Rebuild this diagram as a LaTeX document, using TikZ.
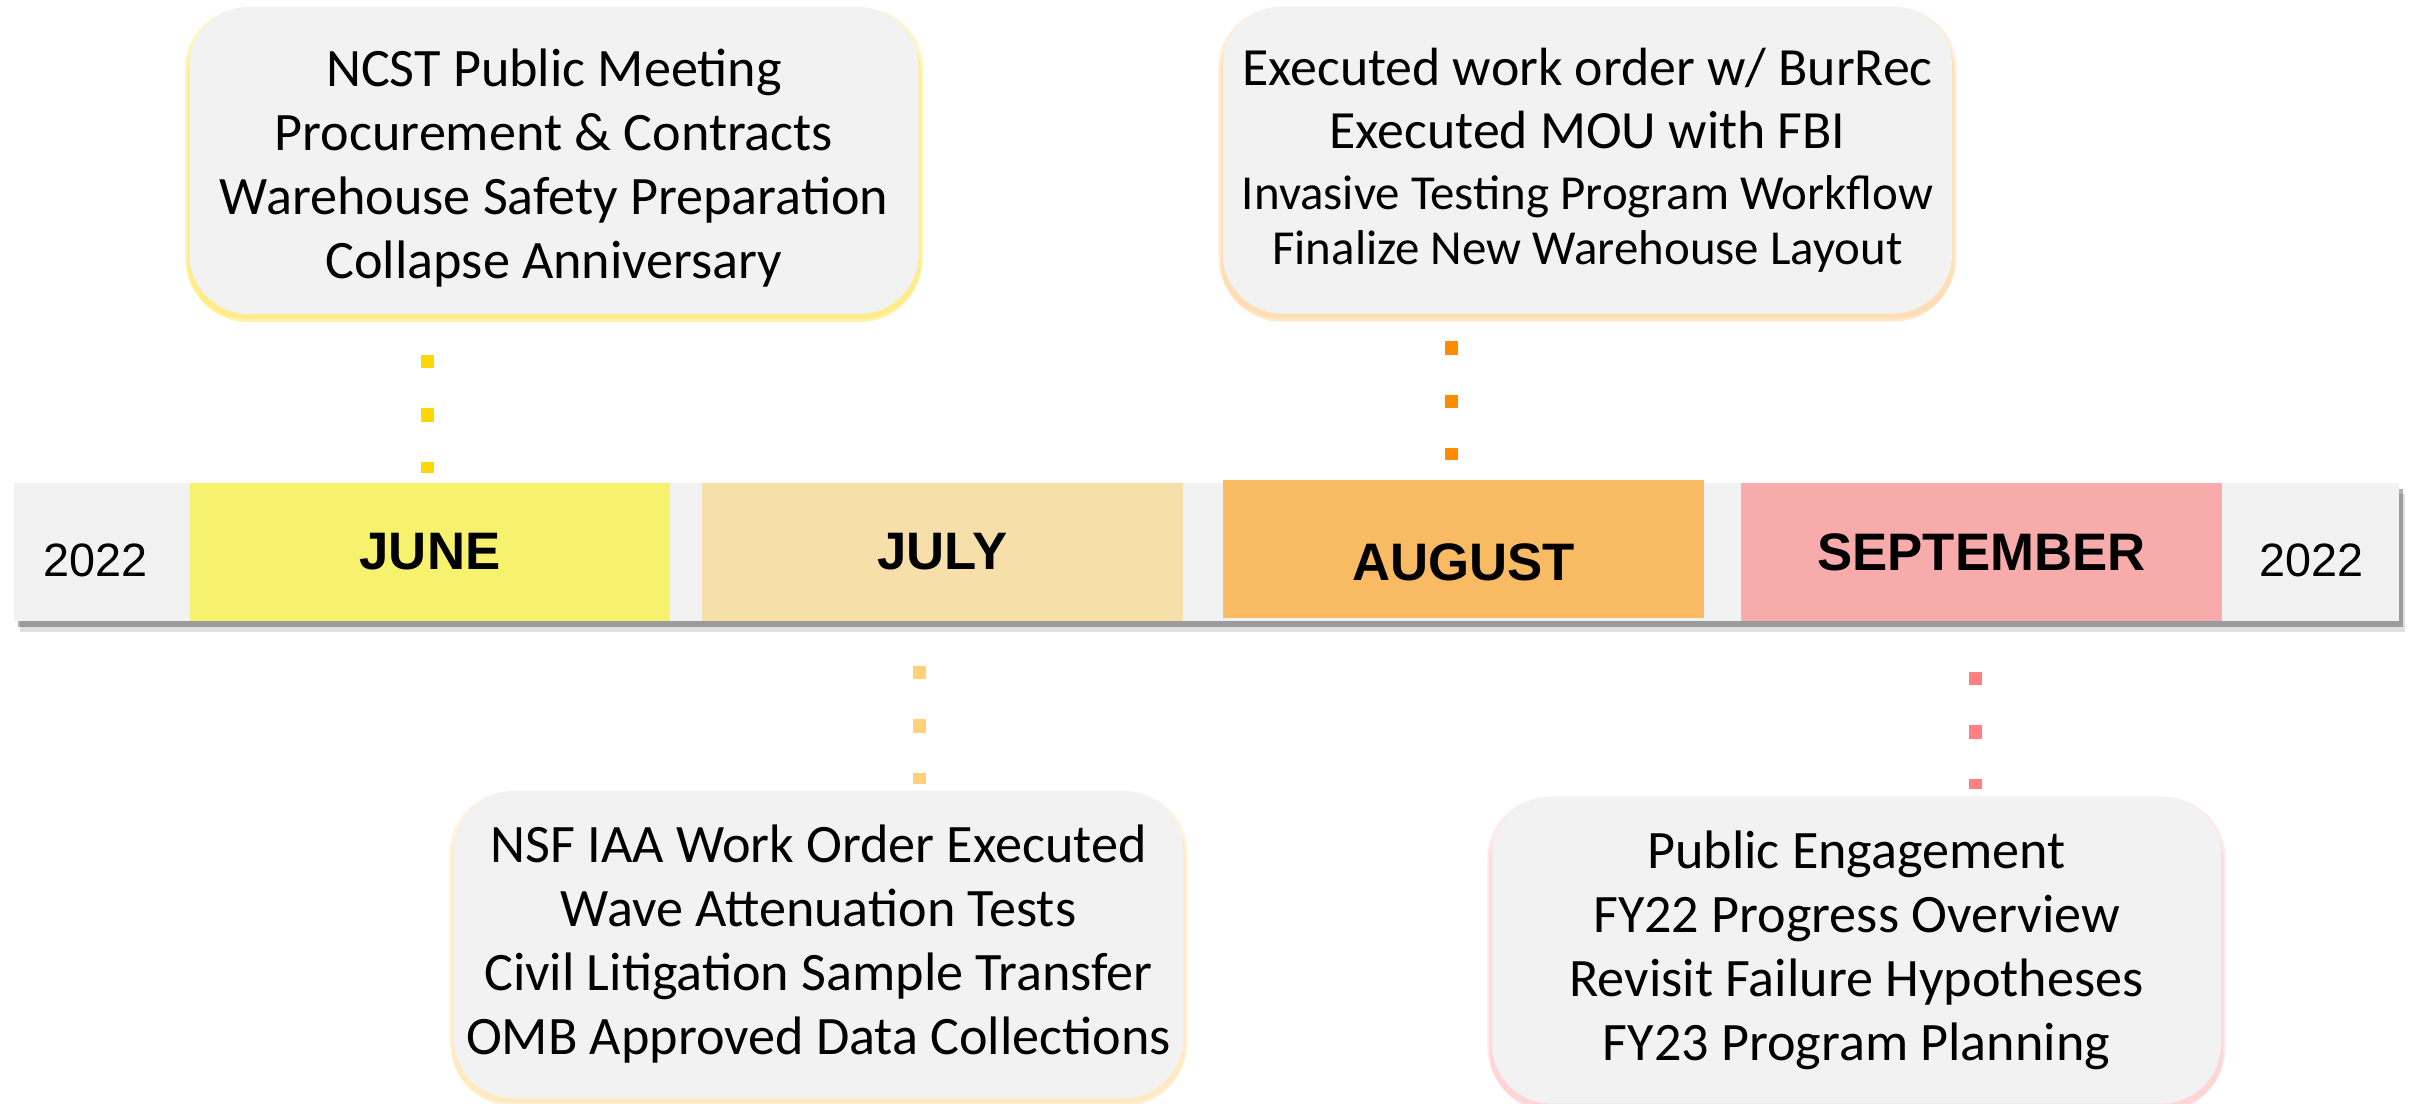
\documentclass[tikz,border=0pt]{standalone}
\usepackage{fontspec}
\setmainfont{Carlito}
\newfontfamily\barfont{Liberation Sans}
\usepackage{xcolor}
\usetikzlibrary{calc,shadows}

\definecolor{bargray}{HTML}{F2F2F2}
\definecolor{junc}{HTML}{F7F26E}
\definecolor{julc}{HTML}{F7DFAA}
\definecolor{augc}{HTML}{F8BA63}
\definecolor{sepc}{HTML}{F8ABAB}
\definecolor{jund}{HTML}{FFD700}
\definecolor{juld}{HTML}{FFD27A}
\definecolor{augd}{HTML}{FF8C00}
\definecolor{sepd}{HTML}{FF8080}

\begin{document}
\begin{tikzpicture}[x=0.01cm, y=-0.01cm,
    month/.style={minimum width=4.80cm, minimum height=1.38cm, inner sep=0pt, fill=#1,
        font=\barfont\bfseries\fontsize{15}{18}\selectfont},
    year/.style={font=\barfont\fontsize{13.3}{16}\selectfont},
    callout/.style={fill=bargray, rounded corners=0.6cm, minimum width=7.29cm,
        minimum height=3.07cm, align=center, inner sep=0pt,
        drop shadow={shadow xshift=0pt, shadow yshift=-0.07cm, shadow scale=1.006, fill=#1, opacity=0.45},
        drop shadow={shadow xshift=0pt, shadow yshift=-0.03cm, shadow scale=1.012, fill=#1, opacity=0.35},
        font=\fontsize{15.4}{18.2}\selectfont},
    dots/.style={draw=#1, line width=0.13cm, dash pattern=on 0.135cm off 0.4cm}]

    \useasboundingbox (0,0) rectangle (2410,1103);

    %time bar
    \node[fill=bargray, minimum width=23.83cm, minimum height=1.38cm, inner sep=0pt,
        drop shadow={shadow xshift=0.06cm, shadow yshift=-0.11cm, fill=black, opacity=0.12},
        drop shadow={shadow xshift=0.04cm, shadow yshift=-0.06cm, fill=black, opacity=0.3}]
        (bar) at (1206.5,552) {};

    %months
    \node[month=junc] (jun) at (430,552) {JUNE};
    \node[month=julc] (jul) at (942.5,552) {JULY};
    \node[month=augc, text height=0.62cm, text depth=0pt] (aug) at (1463.5,549) {AUGUST};
    \node[month=sepc] (sep) at (1981.5,552) {SEPTEMBER};

    %years
    \node[year] (ystart) at (96,560) {2022};
    \node[year] (yend) at (2311,560) {2022};

    %callouts
    \node[callout=jund!70] (cjun) at (554,160.5)
    {\rule{0pt}{15pt}NCST Public Meeting\\Procurement \& Contracts\\Warehouse Safety Preparation\\Collapse Anniversary};
    \node[callout=augd!45, font=\fontsize{15.3}{15.6}\selectfont] (caug) at (1587.5,160)
    {Executed work order w/ BurRec\\[2.3pt]Executed MOU with FBI\\[1.9pt]
    \fontsize{13.9}{15.6}\selectfont Invasive Testing Program Workflow\\
    \fontsize{13.9}{15.6}\selectfont Finalize New Warehouse Layout};
    \node[callout=juld!70] (cjul) at (818.5,944.5)
    {NSF IAA Work Order Executed\\Wave Attenuation Tests\\Civil Litigation Sample Transfer\\OMB Approved Data Collections};
    \node[callout=sepd!50] (csep) at (1856.5,950)
    {Public Engagement\\FY22 Progress Overview\\Revisit Failure Hypotheses\\FY23 Program Planning};

    %dotted leaders
    \draw[dots=jund, shorten <=0.40cm, shorten >=0.09cm] ($(cjun.south -| jun.north)+(-3,0)$) -- ($(jun.north)+(-3,0)$);
    \draw[dots=augd, shorten <=0.27cm, shorten >=0.19cm] ($(caug.south -| aug.north)+(-12,0)$) -- ($(aug.north)+(-12,0)$);
    \draw[dots=juld, shorten <=0.44cm, shorten >=0.06cm] ($(jul.south)+(-23,0)$) -- ($(cjul.north -| jul.south)+(-23,0)$);
    \draw[dots=sepd, shorten <=0.50cm, shorten >=0.065cm] ($(sep.south)+(-6,0)$) -- ($(csep.north -| sep.south)+(-6,0)$);

\end{tikzpicture}
\end{document}
